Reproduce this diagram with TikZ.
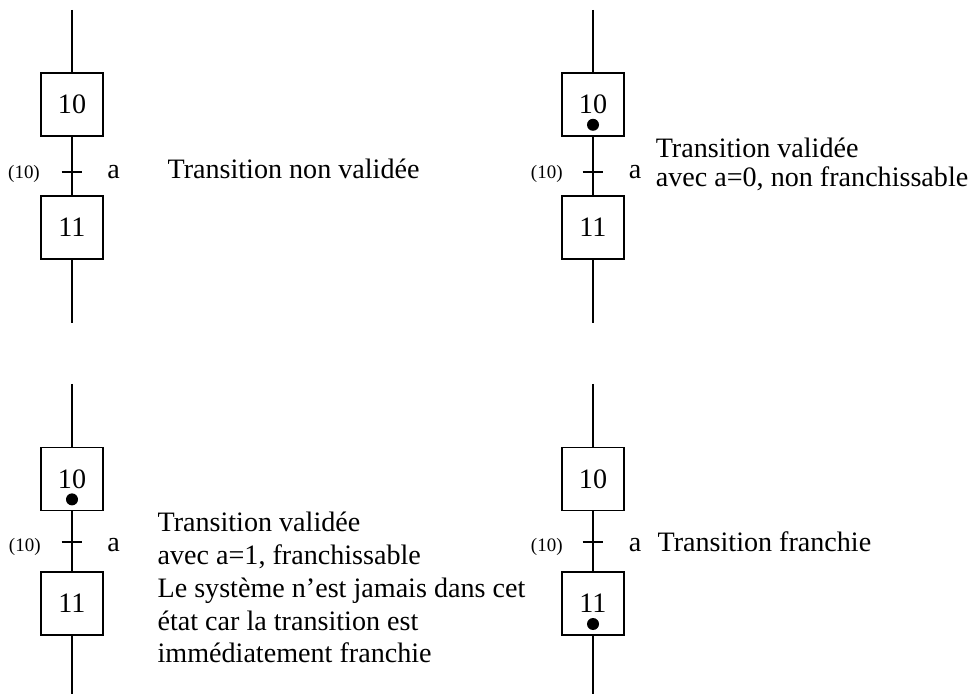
\documentclass[tikz,border=0pt]{standalone}
\usepackage{fontspec}
\setmainfont{Liberation Serif}
\usepackage{tikz}

\begin{document}
\begin{tikzpicture}[line width=1.1pt,
    etape/.style={draw, minimum width=1.55cm, minimum height=1.58cm, inner sep=0pt, font=\fontsize{20}{22}\selectfont},
    recep/.style={anchor=base, inner sep=0pt, font=\fontsize{13.5}{15}\selectfont},
    cond/.style={anchor=base, inner sep=0pt, font=\fontsize{20}{22}\selectfont},
    texte/.style={inner sep=0pt, align=left, font=\fontsize{20}{22}\selectfont}]
      \useasboundingbox (0,0) rectangle (24.225,17.35);

      % non validee
      \coordinate (h1) at (1.8,17.1);
      \node[etape] (e10a) at (1.8,14.74){10};
      \coordinate (t1) at (1.8,13.05);
      \node[etape] (e11a) at (1.8,11.66){11};
      \coordinate (f1) at (1.8,9.275);
      \node[recep] (r1) at (0.6,12.89){(10)};
      \node[cond] (c1) at (2.84,12.89){a};
      \node[texte, anchor=base west] (x1) at (4.17,12.89){Transition non validée};

      \draw[-] (h1) -- (e10a);
      \draw[-] (e10a) -- (e11a);
      \draw[-] (e11a) -- (f1);
      \draw[-] (t1) +(-0.26,0) -- +(0.26,0);

      % validee, a=0
      \coordinate (h2) at (14.825,17.1);
      \node[etape] (e10b) at (14.825,14.74){10};
      \coordinate (t2) at (14.825,13.05);
      \node[etape] (e11b) at (14.825,11.66){11};
      \coordinate (f2) at (14.825,9.275);
      \node[recep] (r2) at (13.67,12.89){(10)};
      \node[cond] (c2) at (15.875,12.89){a};
      \node[texte, anchor=north west, font=\fontsize{20}{20.2}\selectfont] (x2) at (16.375,13.91){Transition validée\\avec a=0, non franchissable};

      \draw[-] (h2) -- (e10b);
      \draw[-] (e10b) -- (e11b);
      \draw[-] (e11b) -- (f2);
      \draw[-] (t2) +(-0.26,0) -- +(0.26,0);
      \fill ([yshift=-0.51cm]e10b.center) circle (0.15);

      % validee, a=1
      \coordinate (h3) at (1.8,7.75);
      \node[etape] (e10c) at (1.8,5.375){10};
      \coordinate (t3) at (1.8,3.8);
      \node[etape] (e11c) at (1.8,2.26){11};
      \coordinate (f3) at (1.8,0);
      \node[recep] (r3) at (0.62,3.56){(10)};
      \node[cond] (c3) at (2.84,3.56){a};
      \node[texte, anchor=north west, font=\fontsize{20}{23.4}\selectfont] (x3) at (3.92,4.575){Transition validée\\avec a=1, franchissable\\Le système n’est jamais dans cet\\état car la transition est\\immédiatement franchie};

      \draw[-] (h3) -- (e10c);
      \draw[-] (e10c) -- (e11c);
      \draw[-] (e11c) -- (f3);
      \draw[-] (t3) +(-0.26,0) -- +(0.26,0);
      \fill ([yshift=-0.51cm]e10c.center) circle (0.15);

      % franchie
      \coordinate (h4) at (14.825,7.75);
      \node[etape] (e10d) at (14.825,5.375){10};
      \coordinate (t4) at (14.825,3.8);
      \node[etape] (e11d) at (14.825,2.26){11};
      \coordinate (f4) at (14.825,0);
      \node[recep] (r4) at (13.67,3.56){(10)};
      \node[cond] (c4) at (15.875,3.56){a};
      \node[texte, anchor=base west] (x4) at (16.42,3.56){Transition franchie};

      \draw[-] (h4) -- (e10d);
      \draw[-] (e10d) -- (e11d);
      \draw[-] (e11d) -- (f4);
      \draw[-] (t4) +(-0.26,0) -- +(0.26,0);
      \fill ([yshift=-0.51cm]e11d.center) circle (0.15);
    \end{tikzpicture}
\end{document}
